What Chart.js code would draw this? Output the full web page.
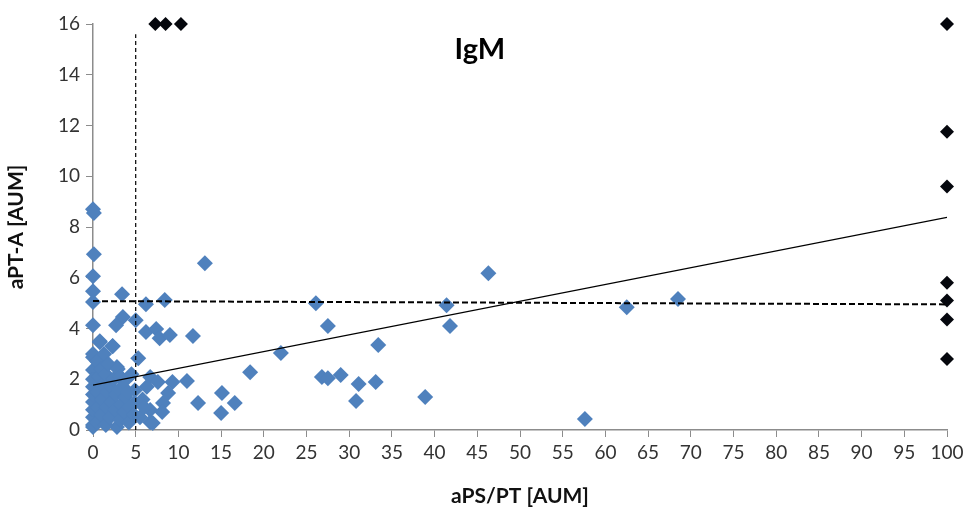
<!DOCTYPE html>
<html>
<head>
<meta charset="utf-8">
<script src="https://cdn.jsdelivr.net/npm/chart.js@4.4.0/dist/chart.umd.min.js"></script>
<style>
  html, body { margin: 0; padding: 0; background: #fff; }
  #wrap { width: 968px; height: 513px; }
</style>
</head>
<body>
<div id="wrap"><canvas id="chart" width="968" height="513"></canvas></div>
<script>
// ---- data ----
const blueX = [
  0, 0.1, 0.1, 0, 0, 0, 0, 0.8, 0, 0, 0,
  3.4, 6.2, 8.4, 3.5, 2.7, 5.0, 6.2, 7.4, 7.8, 9.0, 11.7, 13.1,
  2.3, 5.3, 2.8, 3.2, 6.7, 7.6, 9.3, 11.0, 18.4, 15.1, 15.0, 16.6, 12.3,
  8.8, 8.2, 6.7, 6.7, 8.1, 7.0, 2.8, 4.9, 4.9,
  0, 0, 0, 0, 0, 0, 0, 0,
  0.5, 0.6, 0.5, 0.7, 0.5, 0.8, 1.0, 1.1, 1.2, 1.0, 1.3,
  1.5, 1.6, 1.7, 1.5, 1.8, 2.0, 2.2, 2.1, 2.4, 2.3,
  2.6, 2.7, 2.9, 3.2, 3.3, 3.1, 3.2, 3.7, 3.8, 3.6,
  4.2, 4.3, 4.1, 4.5, 4.8, 5.5, 5.8, 6.3, 6.0,
  22.0, 26.1, 27.5, 26.8, 27.5, 29.0, 33.4, 31.1, 33.1, 30.8, 38.9,
  41.4, 41.8, 46.3, 57.6, 62.5, 68.5
];
const blueY = [
  8.7, 8.55, 6.93, 6.06, 5.47, 5.04, 4.13, 3.46, 2.87, 2.36, 0.12,
  5.35, 4.96, 5.12, 4.45, 4.13, 4.33, 3.86, 3.98, 3.62, 3.74, 3.7, 6.57,
  3.31, 2.83, 2.48, 2.09, 2.09, 1.89, 1.89, 1.93, 2.28, 1.46, 0.67, 1.06, 1.06,
  1.46, 1.06, 0.79, 0.31, 0.71, 0.28, 0.12, 1.06, 1.57,
  0.2, 0.5, 0.8, 1.1, 1.4, 1.7, 2.0, 3.0,
  0.3, 0.9, 1.5, 2.1, 2.7, 3.5, 0.6, 1.2, 1.8, 2.4, 3.0,
  0.2, 0.9, 1.5, 2.2, 2.6, 0.5, 1.1, 1.7, 2.0, 3.3,
  0.8, 1.4, 2.4, 0.4, 1.0, 1.6, 2.1, 0.7, 1.3, 1.9,
  0.3, 0.9, 1.5, 2.2, 0.6, 0.5, 1.2, 1.7, 0.9,
  3.03, 5.0, 4.1, 2.09, 2.04, 2.17, 3.35, 1.81, 1.89, 1.14, 1.3,
  4.92, 4.1, 6.18, 0.43, 4.84, 5.16
];
const blackX = [7.3, 8.5, 10.3, 100, 100, 100, 100, 100, 100, 100];
const blackY = [16, 16, 16, 16, 11.75, 9.6, 5.8, 5.1, 4.35, 2.8];

const trendX = [0, 100];
const trendY = [1.77, 8.38];
const cutHX = [0, 100];
const cutHY = [5.08, 4.95];
const cutVX = [5, 5];
const cutVY = [0, 15.6];

const xTicks = [0, 5, 10, 15, 20, 25, 30, 35, 40, 45, 50, 55, 60, 65, 70, 75, 80, 85, 90, 95, 100];
const yTicks = [0, 2, 4, 6, 8, 10, 12, 14, 16];

const pts = (xs, ys) => xs.map((x, i) => ({ x: x, y: ys[i] }));

const FONT = 'Lato, "Open Sans", sans-serif';
const AXIS = '#8c8c8c';

// draws the "IgM" label inside the plot
const titlePlugin = {
  id: 'igmTitle',
  afterDatasetsDraw(chart) {
    const { ctx, scales } = chart;
    ctx.save();
    ctx.font = 'bold 29px ' + FONT;
    ctx.fillStyle = '#000';
    ctx.textAlign = 'center';
    ctx.textBaseline = 'middle';
    ctx.fillText('IgM', scales.x.getPixelForValue(45.3), scales.y.getPixelForValue(15.0));
    ctx.restore();
  }
};

const lineSet = (xs, ys, dash, width) => ({
  type: 'line',
  data: pts(xs, ys),
  borderColor: '#000',
  borderWidth: width,
  borderDash: dash,
  pointRadius: 0,
  showLine: true,
  fill: false,
  order: 0
});

new Chart(document.getElementById('chart'), {
  type: 'scatter',
  data: {
    datasets: [
      {
        data: pts(blueX, blueY),
        pointStyle: 'rectRot',
        pointRadius: 8,
        backgroundColor: '#4f81bd',
        borderColor: '#4f81bd',
        borderWidth: 0,
        clip: false,
        order: 2
      },
      {
        data: pts(blackX, blackY),
        pointStyle: 'rectRot',
        pointRadius: 7,
        backgroundColor: '#05070d',
        borderColor: '#05070d',
        borderWidth: 0,
        clip: false,
        order: 1
      },
      lineSet(trendX, trendY, [], 1.3),
      lineSet(cutHX, cutHY, [6, 3], 2),
      lineSet(cutVX, cutVY, [4, 3], 1.2)
    ]
  },
  options: {
    responsive: false,
    animation: false,
    layout: { padding: { top: 24, right: 21, left: 0, bottom: 0 } },
    plugins: { legend: { display: false }, tooltip: { enabled: false } },
    scales: {
      x: {
        type: 'linear',
        min: 0,
        max: 100,
        afterBuildTicks: (s) => { s.ticks = xTicks.map(v => ({ value: v })); },
        afterFit: (s) => { s.height = 83; },
        grid: { display: true, drawOnChartArea: false, drawTicks: true, tickLength: 7, color: AXIS },
        border: { display: true, color: AXIS, width: 1.5 },
        ticks: { color: '#333', font: { family: FONT, size: 19 }, padding: 4, maxRotation: 0, autoSkip: false },
        title: { display: true, text: 'aPS/PT [AUM]', color: '#111', font: { family: FONT, size: 21, weight: 'bold' }, padding: { top: 4 } }
      },
      y: {
        type: 'linear',
        min: 0,
        max: 16,
        afterBuildTicks: (s) => { s.ticks = yTicks.map(v => ({ value: v })); },
        afterFit: (s) => { s.width = 93; },
        grid: { display: true, drawOnChartArea: false, drawTicks: true, tickLength: 7, color: AXIS },
        border: { display: true, color: AXIS, width: 1.5 },
        ticks: { color: '#333', font: { family: FONT, size: 19 }, padding: 6 },
        title: { display: true, text: 'aPT-A [AUM]', color: '#111', font: { family: FONT, size: 21, weight: 'bold' }, padding: { bottom: 6 } }
      }
    }
  },
  plugins: [titlePlugin]
});
</script>
</body>
</html>
